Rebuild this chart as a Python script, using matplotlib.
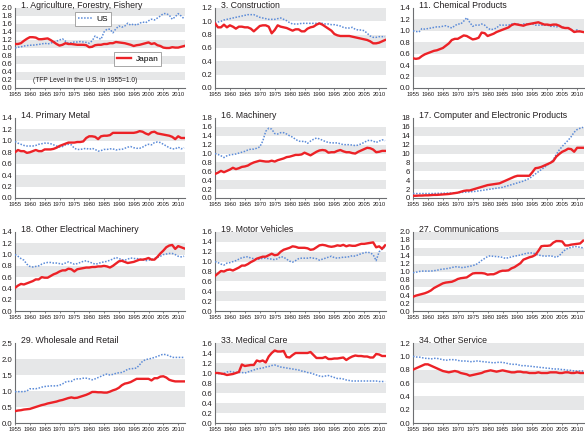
import numpy as np
import matplotlib
matplotlib.use("Agg")
import matplotlib.pyplot as plt
from matplotlib.lines import Line2D

years = list(range(1955, 2013))
xtick_years = list(range(1955, 2011, 5))

titles = ["1. Agriculture, Forestry, Fishery", "3. Construction", "11. Chemical Products",
          "14. Primary Metal", "16. Machinery", "17. Computer and Electronic Products",
          "18. Other Electrical Machinery", "19. Motor Vehicles", "27. Communications",
          "29. Wholesale and Retail", "33. Medical Care", "34. Other Service"]

us_agri = [1.00,1.02,1.03,1.05,1.06, 1.07,1.07,1.08,1.09,1.10, 1.12,1.10,1.12,1.15,1.17, 1.20,1.23,1.17,1.12,1.13,
           1.15,1.15,1.16,1.15,1.14, 1.12,1.18,1.30,1.25,1.22, 1.40,1.47,1.47,1.38,1.48, 1.55,1.52,1.55,1.62,1.57,
           1.60,1.57,1.62,1.65,1.63, 1.68,1.72,1.70,1.75,1.80, 1.86,1.86,1.82,1.72,1.78, 1.86,1.80,1.73]
jp_agri = [1.10,1.10,1.12,1.18,1.23, 1.27,1.27,1.26,1.22,1.22, 1.23,1.24,1.20,1.15,1.10, 1.06,1.08,1.12,1.10,1.10,
           1.09,1.08,1.08,1.08,1.07, 1.02,1.03,1.07,1.08,1.08, 1.10,1.10,1.12,1.12,1.15, 1.14,1.13,1.12,1.10,1.08,
           1.05,1.07,1.08,1.10,1.12, 1.14,1.10,1.12,1.07,1.05, 1.01,1.00,1.00,1.02,1.01, 1.01,1.03,1.05]

us_cons = [0.97,0.99,1.00,1.02,1.03, 1.04,1.05,1.06,1.07,1.08, 1.09,1.10,1.10,1.10,1.08, 1.06,1.05,1.04,1.03,1.03,
           1.03,1.04,1.05,1.03,1.01, 0.98,0.96,0.96,0.96,0.97, 0.97,0.97,0.97,0.97,0.97, 0.97,0.97,0.96,0.96,0.95,
           0.95,0.94,0.93,0.91,0.90, 0.90,0.91,0.88,0.87,0.87, 0.86,0.82,0.78,0.76,0.76, 0.77,0.77,0.77]
jp_cons = [0.97,0.91,0.91,0.95,0.91, 0.94,0.92,0.89,0.92,0.92, 0.91,0.91,0.89,0.85,0.89, 0.93,0.94,0.94,0.92,0.82,
           0.87,0.94,0.92,0.91,0.90, 0.88,0.86,0.88,0.88,0.85, 0.85,0.89,0.91,0.92,0.95, 0.97,0.95,0.92,0.89,0.86,
           0.81,0.79,0.78,0.78,0.78, 0.78,0.77,0.76,0.75,0.74, 0.73,0.72,0.70,0.67,0.67, 0.68,0.70,0.72]

us_chem = [1.00,0.99,0.98,1.04,1.03, 1.04,1.05,1.06,1.07,1.07, 1.08,1.09,1.07,1.05,1.09, 1.12,1.12,1.17,1.23,1.15,
           1.08,1.10,1.10,1.12,1.10, 1.05,1.02,1.03,1.05,1.10, 1.10,1.10,1.10,1.12,1.12, 1.12,1.10,1.12,1.12,1.12,
           1.12,1.10,1.10,1.10,1.10, 1.10,1.08,1.08,1.07,1.08, 1.07,1.05,1.05,1.02,0.99, 1.02,0.99,0.98]
jp_chem = [0.52,0.51,0.52,0.56,0.59, 0.61,0.63,0.65,0.66,0.68, 0.70,0.74,0.78,0.84,0.86, 0.86,0.89,0.92,0.91,0.88,
           0.85,0.86,0.88,0.97,0.96, 0.91,0.93,0.95,0.98,1.00, 1.02,1.04,1.06,1.10,1.12, 1.11,1.10,1.09,1.11,1.12,
           1.13,1.14,1.15,1.13,1.11, 1.11,1.10,1.11,1.11,1.09, 1.06,1.05,1.05,1.02,0.98, 0.99,0.99,0.98]

us_metal = [0.99,0.96,0.94,0.92,0.91, 0.91,0.91,0.92,0.94,0.95, 0.96,0.96,0.95,0.93,0.91, 0.89,0.90,0.93,0.94,0.93,
            0.87,0.85,0.85,0.86,0.87, 0.85,0.87,0.85,0.82,0.83, 0.85,0.85,0.86,0.86,0.84, 0.85,0.85,0.87,0.89,0.90,
            0.88,0.87,0.87,0.89,0.92, 0.94,0.93,0.97,0.98,0.97, 0.94,0.91,0.88,0.86,0.86, 0.89,0.86,0.88]
jp_metal = [0.80,0.84,0.82,0.82,0.79, 0.80,0.82,0.84,0.82,0.82, 0.85,0.85,0.85,0.86,0.88, 0.91,0.93,0.95,0.97,0.97,
            0.97,0.98,0.98,0.99,1.05, 1.08,1.08,1.07,1.03,1.08, 1.09,1.09,1.10,1.14,1.14, 1.14,1.14,1.14,1.14,1.14,
            1.14,1.15,1.17,1.16,1.13, 1.11,1.15,1.16,1.13,1.12, 1.11,1.10,1.09,1.07,1.03, 1.08,1.05,1.05]

us_mach = [1.00,0.98,0.95,0.91,0.95, 0.97,0.98,0.99,1.01,1.03, 1.05,1.08,1.10,1.10,1.12, 1.15,1.28,1.50,1.57,1.55,
           1.45,1.44,1.47,1.47,1.44, 1.40,1.37,1.32,1.28,1.27, 1.28,1.23,1.28,1.32,1.35, 1.33,1.30,1.27,1.25,1.24,
           1.24,1.24,1.22,1.20,1.20, 1.20,1.19,1.18,1.19,1.22, 1.25,1.29,1.30,1.28,1.25, 1.28,1.31,1.29]
jp_mach = [0.54,0.57,0.61,0.58,0.61, 0.64,0.68,0.65,0.67,0.70, 0.71,0.73,0.77,0.80,0.82, 0.84,0.83,0.82,0.82,0.84,
           0.82,0.85,0.87,0.89,0.92, 0.93,0.95,0.97,0.97,0.98, 1.02,0.99,0.96,1.00,1.04, 1.07,1.08,1.07,1.02,1.03,
           1.03,1.06,1.08,1.05,1.03, 1.03,1.01,1.00,1.04,1.07, 1.10,1.13,1.12,1.09,1.03, 1.04,1.06,1.06]

us_comp = [1.0,1.0,1.0,1.0,1.0, 1.0,1.0,1.0,1.05,1.05, 1.05,1.1,1.1,1.1,1.15, 1.2,1.25,1.3,1.35,1.4,
           1.45,1.5,1.6,1.7,1.8, 1.9,2.0,2.1,2.2,2.3, 2.4,2.6,2.8,3.0,3.2, 3.4,3.6,3.8,4.1,4.4,
           4.9,5.4,5.9,6.4,6.9, 7.4,7.9,8.6,9.8,10.8, 11.6,12.3,13.0,13.8,14.8, 15.4,15.7,15.9]
jp_comp = [0.5,0.5,0.55,0.55,0.6, 0.6,0.65,0.7,0.7,0.75, 0.8,0.85,0.9,1.0,1.1, 1.2,1.4,1.6,1.7,1.7,
           1.9,2.1,2.3,2.5,2.7, 2.9,3.0,3.1,3.2,3.3, 3.6,3.9,4.2,4.5,4.8, 5.0,5.0,5.0,5.0,5.0,
           5.8,6.7,6.8,7.0,7.3, 7.6,7.9,8.3,9.3,9.9, 10.4,10.7,11.1,11.0,10.4, 11.3,11.3,11.3]

us_elec = [1.00,0.97,0.93,0.90,0.83, 0.79,0.78,0.79,0.80,0.83, 0.85,0.86,0.86,0.85,0.85, 0.84,0.83,0.85,0.87,0.85,
           0.83,0.84,0.86,0.88,0.89, 0.87,0.85,0.83,0.84,0.86, 0.87,0.88,0.90,0.92,0.95, 0.93,0.91,0.90,0.92,0.94,
           0.93,0.93,0.92,0.91,0.89, 0.90,0.91,0.93,0.95,0.97, 1.00,1.01,1.02,1.02,1.00, 0.97,0.96,0.97]
jp_elec = [0.41,0.45,0.48,0.47,0.49, 0.51,0.53,0.56,0.56,0.60, 0.59,0.59,0.62,0.65,0.67, 0.70,0.72,0.72,0.75,0.74,
           0.70,0.74,0.75,0.76,0.77, 0.77,0.78,0.78,0.79,0.79, 0.80,0.79,0.77,0.80,0.84, 0.88,0.89,0.87,0.85,0.86,
           0.87,0.89,0.91,0.91,0.92, 0.94,0.91,0.91,0.96,1.02, 1.07,1.13,1.16,1.17,1.10, 1.15,1.13,1.11]

us_motor = [1.00,0.98,0.95,0.93,0.97, 0.98,1.00,1.02,1.05,1.08, 1.09,1.10,1.07,1.06,1.05, 1.05,1.07,1.07,1.06,1.05,
            1.04,1.06,1.10,1.09,1.05, 1.01,0.99,1.02,1.06,1.07, 1.07,1.07,1.08,1.07,1.06, 1.03,1.05,1.07,1.09,1.11,
            1.08,1.07,1.08,1.09,1.09, 1.10,1.12,1.11,1.14,1.16, 1.18,1.19,1.18,1.14,1.02, 1.20,1.25,1.30]
jp_motor = [0.71,0.76,0.81,0.80,0.83, 0.84,0.82,0.85,0.88,0.92, 0.92,0.95,0.99,1.02,1.06, 1.08,1.10,1.10,1.13,1.16,
            1.13,1.14,1.20,1.24,1.26, 1.28,1.31,1.30,1.28,1.28, 1.28,1.27,1.24,1.25,1.29, 1.33,1.34,1.33,1.31,1.30,
            1.31,1.33,1.32,1.34,1.31, 1.33,1.32,1.32,1.34,1.36, 1.36,1.37,1.38,1.39,1.29, 1.31,1.26,1.33]

us_comm = [0.97,0.98,1.00,1.01,1.01, 1.01,1.01,1.02,1.03,1.05, 1.06,1.07,1.08,1.10,1.12, 1.12,1.10,1.10,1.12,1.13,
           1.15,1.17,1.22,1.28,1.33, 1.38,1.40,1.38,1.38,1.37, 1.36,1.33,1.35,1.37,1.39, 1.40,1.42,1.44,1.46,1.47,
           1.47,1.45,1.42,1.40,1.39, 1.39,1.40,1.38,1.36,1.40, 1.48,1.55,1.59,1.61,1.63, 1.63,1.61,1.60]
jp_comm = [0.36,0.39,0.41,0.43,0.45, 0.48,0.52,0.58,0.62,0.66, 0.70,0.72,0.73,0.74,0.77, 0.81,0.83,0.84,0.85,0.90,
           0.95,0.96,0.96,0.96,0.95, 0.92,0.93,0.93,0.96,1.00, 1.02,1.02,1.03,1.08,1.11, 1.16,1.21,1.30,1.33,1.36,
           1.38,1.42,1.52,1.64,1.65, 1.65,1.66,1.73,1.77,1.77, 1.76,1.66,1.66,1.68,1.69, 1.70,1.71,1.78]

us_whole = [0.98,0.98,0.98,0.98,1.00, 1.07,1.07,1.07,1.09,1.12, 1.14,1.15,1.16,1.16,1.16, 1.18,1.22,1.28,1.30,1.30,
            1.36,1.38,1.38,1.40,1.40, 1.38,1.35,1.38,1.42,1.46, 1.50,1.53,1.50,1.52,1.55, 1.57,1.58,1.62,1.68,1.70,
            1.70,1.72,1.82,1.93,1.98, 2.00,2.02,2.05,2.08,2.12, 2.15,2.13,2.10,2.05,2.05, 2.05,2.05,2.05]
jp_whole = [0.37,0.39,0.40,0.42,0.43, 0.44,0.47,0.50,0.53,0.56, 0.58,0.61,0.63,0.65,0.67, 0.70,0.72,0.75,0.78,0.80,
            0.78,0.79,0.82,0.85,0.88, 0.92,0.97,0.97,0.96,0.96, 0.95,0.95,0.98,1.02,1.05, 1.10,1.18,1.23,1.25,1.28,
            1.33,1.38,1.38,1.38,1.38, 1.38,1.33,1.40,1.40,1.45, 1.46,1.42,1.35,1.32,1.30, 1.30,1.30,1.30]

us_med = [1.00,0.99,0.98,0.99,1.02, 1.03,1.02,1.01,1.01,1.01, 1.00,1.02,1.04,1.06,1.08, 1.09,1.10,1.12,1.13,1.15,
          1.16,1.14,1.12,1.11,1.10, 1.09,1.08,1.07,1.06,1.04, 1.03,1.01,1.00,0.98,0.96, 0.94,0.93,0.94,0.95,0.93,
          0.91,0.89,0.89,0.88,0.86, 0.85,0.84,0.84,0.84,0.84, 0.84,0.84,0.84,0.84,0.84, 0.83,0.83,0.83]
jp_med = [1.00,1.00,0.99,0.98,0.96, 0.97,0.98,1.00,1.02,1.17, 1.14,1.15,1.16,1.16,1.25, 1.23,1.25,1.21,1.33,1.40,
          1.45,1.43,1.43,1.44,1.32, 1.31,1.36,1.40,1.40,1.40, 1.40,1.40,1.42,1.36,1.30, 1.30,1.30,1.32,1.28,1.28,
          1.29,1.29,1.30,1.31,1.26, 1.30,1.33,1.35,1.34,1.34, 1.33,1.33,1.31,1.31,1.38, 1.37,1.34,1.34]

us_serv = [1.00,0.99,0.99,0.98,0.97, 0.97,0.96,0.97,0.97,0.96, 0.95,0.94,0.95,0.95,0.95, 0.94,0.93,0.93,0.93,0.92,
           0.92,0.93,0.93,0.92,0.92, 0.91,0.91,0.90,0.91,0.91, 0.91,0.90,0.89,0.88,0.88, 0.88,0.86,0.86,0.86,0.85,
           0.85,0.84,0.84,0.83,0.83, 0.82,0.82,0.81,0.81,0.81, 0.80,0.80,0.79,0.79,0.78, 0.78,0.78,0.78]
jp_serv = [0.80,0.82,0.84,0.86,0.88, 0.88,0.86,0.84,0.82,0.80, 0.78,0.77,0.76,0.77,0.78, 0.77,0.75,0.74,0.73,0.71,
           0.72,0.73,0.74,0.75,0.77, 0.78,0.79,0.78,0.77,0.78, 0.79,0.78,0.77,0.76,0.76, 0.77,0.77,0.76,0.76,0.75,
           0.75,0.75,0.76,0.75,0.75, 0.75,0.76,0.76,0.76,0.75, 0.75,0.76,0.76,0.75,0.75, 0.76,0.75,0.75]

us_series = [us_agri, us_cons, us_chem, us_metal, us_mach, us_comp, us_elec, us_motor, us_comm, us_whole, us_med, us_serv]
jp_series = [jp_agri, jp_cons, jp_chem, jp_metal, jp_mach, jp_comp, jp_elec, jp_motor, jp_comm, jp_whole, jp_med, jp_serv]
y_max = [2.0, 1.2, 1.4, 1.4, 1.8, 18, 1.4, 1.6, 2.0, 2.5, 1.6, 1.2]
y_step = [0.2, 0.2, 0.2, 0.2, 0.2, 2, 0.2, 0.2, 0.2, 0.5, 0.2, 0.2]

W, H = 585, 433
fig = plt.figure(figsize=(W / 100, H / 100), dpi=100)
FONT = ['Liberation Sans', 'DejaVu Sans']
US_C = '#5b8bd8'
JP_C = '#ec2227'
BAND = '#e6e7e8'
AX_C = '#6d6e71'
TXT_C = '#231f20'

col_x = [(15, 185), (215, 386), (413, 584)]
row_y = [(8, 88), (118, 198), (232, 311), (343, 423)]

axes = []
for i in range(12):
    r, c = divmod(i, 3)
    x0, x1 = col_x[c]
    y0, y1 = row_y[r]
    ax = fig.add_axes([x0 / W, 1 - y1 / H, (x1 - x0) / W, (y1 - y0) / H])
    axes.append(ax)
    ticks = np.arange(0, y_max[i] + y_step[i] / 2, y_step[i])
    for k in range(1, len(ticks) - 1, 2):
        ax.axhspan(ticks[k], ticks[k + 1], color=BAND, lw=0, zorder=0)
    ax.plot(years, us_series[i], color=US_C, lw=1.1, ls=(0, (1, 1)), zorder=3)
    ax.plot(years, jp_series[i], color=JP_C, lw=1.7, zorder=4)
    ax.set_xlim(1955, 2012.3)
    ax.set_ylim(0, y_max[i])
    ax.set_yticks(ticks)
    if y_step[i] >= 1:
        ax.set_yticklabels([f"{t:.0f}" for t in ticks])
    else:
        ax.set_yticklabels([f"{t:.1f}" for t in ticks])
    ax.set_xticks(xtick_years)
    ax.set_xticklabels([str(y) for y in xtick_years])
    for s in ['top', 'right']:
        ax.spines[s].set_visible(False)
    for s in ['left', 'bottom']:
        ax.spines[s].set_color(AX_C)
        ax.spines[s].set_linewidth(0.8)
    ax.tick_params(axis='y', length=0, pad=2, labelsize=5.6, labelcolor=TXT_C)
    ax.tick_params(axis='x', length=1.5, width=0.6, color=AX_C, pad=1.5, labelsize=4.2, labelcolor=TXT_C)
    for lab in ax.get_xticklabels() + ax.get_yticklabels():
        lab.set_family(FONT)
    ax.text(0.035, 1.0, titles[i], transform=ax.transAxes, ha='left', va='baseline',
            fontsize=6.3, family=FONT, color=TXT_C)

ax0 = axes[0]
us_h = [Line2D([], [], color=US_C, lw=1.1, ls=(0, (1, 1)))]
jp_h = [Line2D([], [], color=JP_C, lw=1.7)]
leg1 = ax0.legend(us_h, ['US'], loc='upper left', bbox_to_anchor=(0.355, 0.95), frameon=True,
                  fancybox=False, edgecolor='#999999', framealpha=1, handlelength=1.6,
                  handletextpad=0.6, borderpad=0.35, borderaxespad=0,
                  prop={'family': FONT, 'size': 6})
leg1.get_frame().set_linewidth(0.6)
ax0.add_artist(leg1)
leg2 = ax0.legend(jp_h, ['Japan'], loc='upper left', bbox_to_anchor=(0.585, 0.45), frameon=True,
                  fancybox=False, edgecolor='#999999', framealpha=1, handlelength=1.6,
                  handletextpad=0.6, borderpad=0.35, borderaxespad=0,
                  prop={'family': FONT, 'size': 6})
leg2.get_frame().set_linewidth(0.6)
ax0.text(0.41, 0.1, "(TFP Level in the U.S. in 1955=1.0)", transform=ax0.transAxes,
         ha='center', va='center', fontsize=4.8, family=FONT, color=TXT_C)

fig.savefig('out.png', dpi=100)
